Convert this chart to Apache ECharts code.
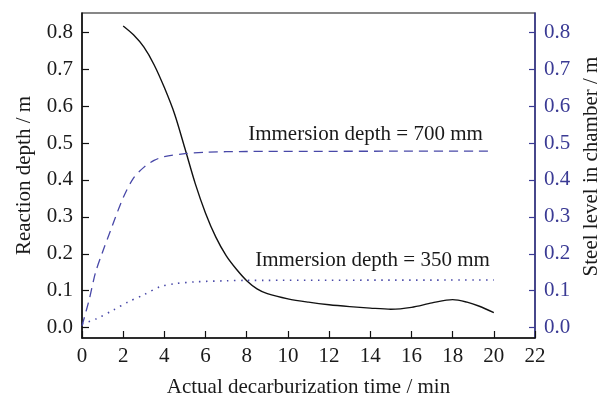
<!DOCTYPE html>
<html>
<head>
<meta charset="utf-8">
<script src="https://cdn.jsdelivr.net/npm/echarts@6/dist/echarts.min.js"></script>
<style>
html,body{margin:0;padding:0;background:#fff;}
#c{width:610px;height:396px;}
</style>
</head>
<body>
<div id="c"></div>
<script>
// Reaction depth (solid black), x = time / min
const reactionTime  = [2, 2.5, 3, 3.5, 4, 4.5, 5, 5.5, 6, 6.5, 7, 7.5, 8, 8.5, 9, 10, 11, 12, 13, 14, 15, 16, 17, 18, 18.7, 19.3, 20];
const reactionDepth = [0.817, 0.793, 0.760, 0.712, 0.650, 0.578, 0.485, 0.390, 0.310, 0.245, 0.195, 0.158, 0.127, 0.105, 0.092, 0.078, 0.069, 0.062, 0.057, 0.053, 0.050, 0.055, 0.067, 0.076, 0.069, 0.058, 0.041];

// Steel level, immersion depth 700 mm (dashed)
const level700Time  = [0, 0.35, 0.65, 1, 1.4, 2, 2.5, 3, 3.5, 4, 5, 6, 8, 20];
const level700      = [0.005, 0.076, 0.148, 0.205, 0.265, 0.352, 0.405, 0.434, 0.453, 0.463, 0.471, 0.475, 0.477, 0.478];

// Steel level, immersion depth 350 mm (dotted)
const level350Time  = [0, 0.7, 1.5, 2.25, 3, 3.8, 4.5, 5.5, 7, 8, 20];
const level350      = [0.010, 0.024, 0.047, 0.070, 0.089, 0.111, 0.119, 0.124, 0.127, 0.128, 0.129];

const yTicks = [0, 0.1, 0.2, 0.3, 0.4, 0.5, 0.6, 0.7, 0.8];
const annotations = [
  {text: 'Immersion depth = 700 mm', x: 13.77, y: 0.522},
  {text: 'Immersion depth = 350 mm', x: 14.11, y: 0.183}
];

const FONT = 'Liberation Serif';
const BLUE_AXIS = '#3a3a94';
const BLUE_LINE = '#4848a8';
const zip = (a, b) => a.map((v, i) => [v, b[i]]);

const chart = echarts.init(document.getElementById('c'), null, {renderer: 'canvas'});
chart.setOption({
  animation: false,
  backgroundColor: '#fff',
  grid: {left: 82, right: 75, top: 13, bottom: 58, outerBoundsMode: 'none', containLabel: false,
         show: true, borderColor: '#111', borderWidth: 1.2, backgroundColor: 'transparent'},
  xAxis: {
    type: 'value', min: 0, max: 22, interval: 2,
    name: 'Actual decarburization time / min', nameLocation: 'middle', nameGap: 39,
    nameTextStyle: {fontFamily: FONT, fontSize: 21, color: '#1a1a1a'},
    axisLine: {onZero: false, lineStyle: {color: '#111', width: 1.5}},
    axisTick: {inside: true, length: 7, lineStyle: {color: '#111', width: 1.2}},
    axisLabel: {fontFamily: FONT, fontSize: 21, color: '#1a1a1a', margin: 8},
    splitLine: {show: false}
  },
  yAxis: [
    {
      type: 'value', min: -0.028, max: 0.852, position: 'left',
      name: 'Reaction depth / m', nameLocation: 'middle', nameGap: 47, nameRotate: 90,
      nameTextStyle: {fontFamily: FONT, fontSize: 21, color: '#1a1a1a'},
      axisLine: {show: true, onZero: false, lineStyle: {color: '#111', width: 1.5}},
      axisTick: {show: true, inside: true, length: 7, customValues: yTicks, lineStyle: {color: '#111', width: 1.2}},
      axisLabel: {fontFamily: FONT, fontSize: 21, color: '#1a1a1a', margin: 9, customValues: yTicks, formatter: v => v.toFixed(1)},
      splitLine: {show: false}
    },
    {
      type: 'value', min: -0.028, max: 0.852, position: 'right',
      name: 'Steel level in chamber / m', nameLocation: 'middle', nameGap: 46, nameRotate: 90,
      nameTextStyle: {fontFamily: FONT, fontSize: 21, color: '#1a1a1a', padding: [0, 0, 0, 18]},
      axisLine: {show: true, onZero: false, lineStyle: {color: BLUE_AXIS, width: 1.5}},
      axisTick: {show: true, inside: true, length: 6, customValues: yTicks, lineStyle: {color: BLUE_AXIS, width: 1.2}},
      axisLabel: {fontFamily: FONT, fontSize: 21, color: BLUE_AXIS, margin: 9, customValues: yTicks, formatter: v => v.toFixed(1)},
      splitLine: {show: false}
    }
  ],
  series: [
    {
      type: 'line', name: 'Reaction depth', yAxisIndex: 0,
      data: zip(reactionTime, reactionDepth), smooth: 0.3,
      showSymbol: false, lineStyle: {color: '#111', width: 1.4}
    },
    {
      type: 'line', name: '700 mm', yAxisIndex: 1,
      data: zip(level700Time, level700), smooth: 0.3,
      showSymbol: false, lineStyle: {color: BLUE_LINE, width: 1.3, type: [9, 6]},
      markPoint: {
        symbol: 'circle', symbolSize: 0, silent: true,
        label: {show: true, position: 'inside', fontFamily: FONT, fontSize: 21, color: '#1a1a1a', formatter: p => p.name},
        data: annotations.map(a => ({name: a.text, coord: [a.x, a.y]}))
      }
    },
    {
      type: 'line', name: '350 mm', yAxisIndex: 1,
      data: zip(level350Time, level350), smooth: 0.3,
      showSymbol: false, lineStyle: {color: BLUE_LINE, width: 1.6, type: [1.5, 5.5]}
    }
  ]
});
</script>
</body>
</html>
